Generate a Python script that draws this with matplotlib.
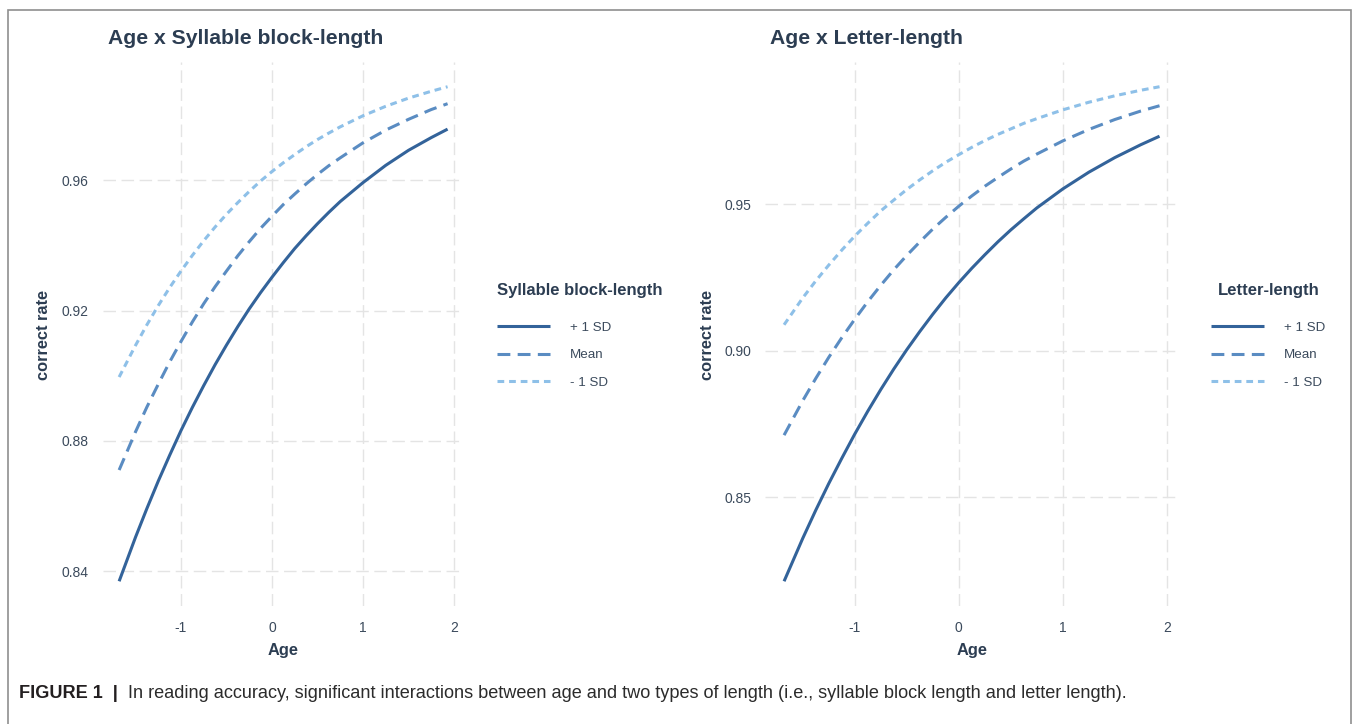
import matplotlib
matplotlib.use("Agg")
import matplotlib.pyplot as plt
from matplotlib.patches import Rectangle

# ---- data: predicted correct rate by standardized age ----
age = [-1.68, -1.5, -1.375, -1.25, -1.125, -1.0, -0.875, -0.75, -0.625, -0.5,
       -0.375, -0.25, -0.125, 0.0, 0.125, 0.25, 0.375, 0.5, 0.625, 0.75,
       1.0, 1.25, 1.5, 1.75, 1.93]

syllable_plus_sd = [0.8370, 0.8505, 0.8593, 0.8677, 0.8756, 0.8832, 0.8903, 0.8970,
                    0.9034, 0.9094, 0.9151, 0.9205, 0.9255, 0.9302, 0.9347, 0.9390,
                    0.9429, 0.9466, 0.9501, 0.9534, 0.9592, 0.9645, 0.9691, 0.9730,
                    0.9756]
syllable_mean = [0.8711, 0.8828, 0.8904, 0.8974, 0.9042, 0.9105, 0.9165, 0.9221,
                 0.9273, 0.9321, 0.9368, 0.9411, 0.9452, 0.9489, 0.9525, 0.9557,
                 0.9588, 0.9617, 0.9644, 0.9668, 0.9714, 0.9753, 0.9786, 0.9816,
                 0.9834]
syllable_minus_sd = [0.8996, 0.9093, 0.9156, 0.9215, 0.9270, 0.9321, 0.9369, 0.9414,
                     0.9456, 0.9495, 0.9531, 0.9565, 0.9597, 0.9626, 0.9653, 0.9678,
                     0.9702, 0.9724, 0.9744, 0.9763, 0.9797, 0.9826, 0.9851, 0.9872,
                     0.9886]

letter_plus_sd = [0.8213, 0.8360, 0.8456, 0.8547, 0.8633, 0.8716, 0.8794, 0.8868,
                  0.8938, 0.9004, 0.9066, 0.9125, 0.9181, 0.9233, 0.9282, 0.9328,
                  0.9372, 0.9413, 0.9451, 0.9488, 0.9553, 0.9610, 0.9660, 0.9704,
                  0.9733]
letter_mean = [0.8712, 0.8830, 0.8906, 0.8978, 0.9045, 0.9108, 0.9168, 0.9224,
               0.9277, 0.9326, 0.9372, 0.9416, 0.9456, 0.9494, 0.9529, 0.9562,
               0.9592, 0.9621, 0.9648, 0.9672, 0.9717, 0.9756, 0.9790, 0.9819,
               0.9837]
letter_minus_sd = [0.9089, 0.9181, 0.9239, 0.9293, 0.9344, 0.9392, 0.9436, 0.9478,
                   0.9515, 0.9551, 0.9584, 0.9615, 0.9644, 0.9670, 0.9695, 0.9718,
                   0.9739, 0.9758, 0.9777, 0.9793, 0.9823, 0.9849, 0.9871, 0.9890,
                   0.9902]

level_labels = ["+ 1 SD", "Mean", "- 1 SD"]
age_ticks = [-1, 0, 1, 2]
syllable_yticks = [0.84, 0.88, 0.92, 0.96]
letter_yticks = [0.85, 0.90, 0.95]

# ---- styling ----
W, H = 1357, 724
plt.rcParams["font.family"] = ["Liberation Sans", "DejaVu Sans"]
TITLE_C = "#2c3d52"
TICK_C = "#3b4a5c"
GRID_C = "#e4e4e4"
line_colors = ["#33639a", "#5a8cc2", "#8ec0e8"]
line_styles = ["-", (0, (4.2, 2.4)), (0, (2.2, 1.6))]
LW = 2.2

fig = plt.figure(figsize=(W / 100, H / 100), dpi=100)
fig.patch.set_facecolor("white")


def add_px_axes(x0, x1, y0, y1):
    return fig.add_axes([x0 / W, 1 - y1 / H, (x1 - x0) / W, (y1 - y0) / H])


def draw_panel(ax, series, yticks, yfmt):
    for vals, lab, c, ls in zip(series, level_labels, line_colors, line_styles):
        ax.plot(age, vals, color=c, lw=LW, ls=ls, label=lab,
                solid_capstyle="butt", dash_capstyle="butt",
                solid_joinstyle="round")
    lo, hi = min(age), max(age)
    pad = 0.05 * (hi - lo)
    ax.set_xlim(lo - pad, hi + pad)
    ymin = min(min(s) for s in series)
    ymax = max(max(s) for s in series)
    ypad = 0.05 * (ymax - ymin)
    ax.set_ylim(ymin - ypad, ymax + ypad)
    ax.set_xticks(age_ticks)
    ax.set_xticklabels([str(t) for t in age_ticks])
    ax.set_yticks(yticks)
    ax.set_yticklabels([yfmt.format(t) for t in yticks])
    ax.grid(True, color=GRID_C, lw=1.0, ls=(0, (9, 4)))
    ax.set_axisbelow(True)
    for sp in ax.spines.values():
        sp.set_visible(False)
    ax.tick_params(length=0, labelsize=10, colors=TICK_C)
    ax.tick_params(axis="y", pad=10)
    ax.tick_params(axis="x", pad=11)
    ax.set_facecolor("white")


ax1 = add_px_axes(102.7, 464.0, 62, 606)
draw_panel(ax1, [syllable_plus_sd, syllable_mean, syllable_minus_sd],
           syllable_yticks, "{:.2f}")
ax2 = add_px_axes(765.3, 1178.3, 62, 606)
draw_panel(ax2, [letter_plus_sd, letter_mean, letter_minus_sd],
           letter_yticks, "{:.2f}")

# panel titles
fig.text(108 / W, 1 - 38 / H, "Age x Syllable block-length", fontsize=15.2,
         fontweight="bold", color=TITLE_C, ha="left", va="center")
fig.text(770 / W, 1 - 38 / H, "Age x Letter-length", fontsize=15.2,
         fontweight="bold", color=TITLE_C, ha="left", va="center")

# axis titles
for xpx in (44, 707):
    fig.text(xpx / W, 1 - 335 / H, "correct rate", rotation=90, fontsize=11.8,
             fontweight="bold", color=TITLE_C, ha="center", va="center")
for ax in (ax1, ax2):
    pos = ax.get_position()
    fig.text(pos.x0 + pos.width / 2, 1 - 650 / H, "Age", fontsize=11.8,
             fontweight="bold", color=TITLE_C, ha="center", va="center")

# legends
for ax, title, xpx in ((ax1, "Syllable block-length", 497), (ax2, "Letter-length", 1211)):
    leg = ax.legend(loc="center left", bbox_to_anchor=(xpx / W, 1 - 336 / H),
                    bbox_transform=fig.transFigure, frameon=False,
                    title=title, fontsize=9.6, handlelength=4.0,
                    handletextpad=1.5, labelspacing=1.15, borderpad=0,
                    borderaxespad=0)
    leg.get_title().set_fontweight("bold")
    leg.get_title().set_fontsize(12)
    leg.get_title().set_color(TITLE_C)
    leg._legend_box.sep = 17
    leg._legend_box.align = "left" if ax is ax1 else "center"
    for t in leg.get_texts():
        t.set_color(TICK_C)

# outer frame (open at the bottom edge)
fig.patches.append(Rectangle((8 / W, -0.02), (1351 - 8) / W, 1.02 - 10 / H,
                             transform=fig.transFigure, fill=False,
                             edgecolor="#8f8f8f", lw=1.2))

# caption
renderer = fig.canvas.get_renderer()
cap_bold = "FIGURE 1  |  "
cap_rest = ("In reading accuracy, significant interactions between age and two types of "
            "length (i.e., syllable block length and letter length).")
target_w = 1127 - 19
size = 12.0
for _ in range(3):
    tb = fig.text(19 / W, 1 - 694 / H, cap_bold, fontsize=size, fontweight="bold",
                  color="#231f20", ha="left", va="center")
    wb = tb.get_window_extent(renderer).width
    tr = fig.text((19 + wb) / W, 1 - 694 / H, cap_rest, fontsize=size,
                  color="#2b2b2b", ha="left", va="center")
    wr = tr.get_window_extent(renderer).width
    total = wb + wr
    if abs(total - target_w) < 2:
        break
    tb.remove()
    tr.remove()
    size *= target_w / total

fig.savefig("out.png", dpi=100, facecolor="white")
